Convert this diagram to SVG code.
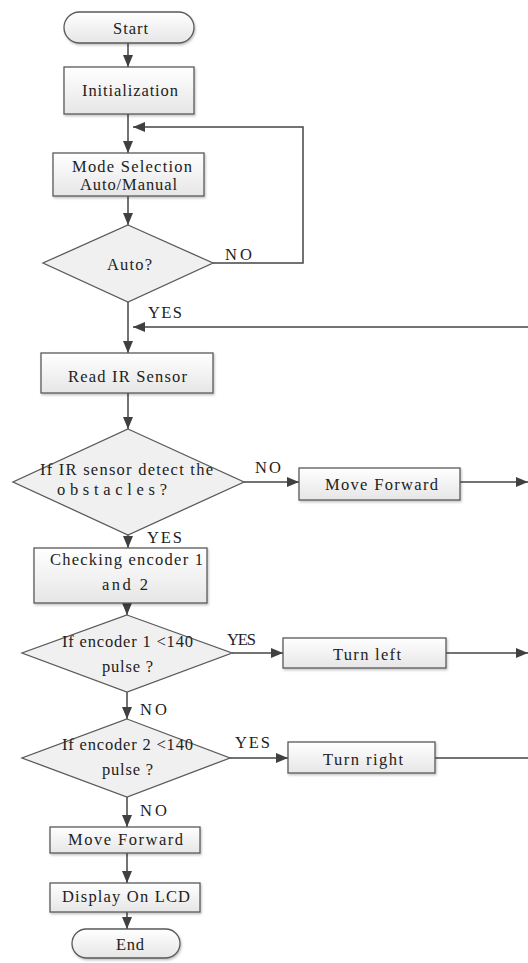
<svg xmlns="http://www.w3.org/2000/svg" width="528" height="963" viewBox="0 0 528 963">
<defs>
<linearGradient id="g" x1="0" y1="0" x2="0" y2="1">
<stop offset="0" stop-color="#ffffff"/>
<stop offset="1" stop-color="#e6e6e6"/>
</linearGradient>
<filter id="sh" x="-10%" y="-10%" width="130%" height="140%">
<feDropShadow dx="1" dy="1.5" stdDeviation="1" flood-color="#000" flood-opacity="0.25"/>
</filter>
<marker id="ah" markerUnits="userSpaceOnUse" markerWidth="12" markerHeight="10" refX="12" refY="5" orient="auto">
<path d="M0,0 L12,5 L0,10 z" fill="#404040"/>
</marker>
</defs>
<style>
.box{fill:url(#g);stroke:#5a5a5a;stroke-width:1.3;filter:url(#sh)}
.dia{fill:#f0f0f0;stroke:#5a5a5a;stroke-width:1.3}
.ln{fill:none;stroke:#444;stroke-width:1.5}
.arr{marker-end:url(#ah)}
.t{fill:#222;font-family:"Liberation Serif","Times New Roman",Times,"DejaVu Serif","Noto Serif",serif;font-size:16.5px}
</style>
<rect width="528" height="963" fill="#ffffff"/>
<g id="connectors">
<line class="ln arr" x1="128" y1="43" x2="128" y2="67"/>
<line class="ln arr" x1="128" y1="114" x2="128" y2="153"/>
<line class="ln arr" x1="128" y1="196" x2="128" y2="225"/>
<polyline class="ln arr" points="213,263 303,263 303,127 133,127"/>
<line class="ln arr" x1="128" y1="302" x2="128" y2="353"/>
<line class="ln arr" x1="528" y1="327" x2="133" y2="327"/>
<line class="ln arr" x1="128" y1="393" x2="128" y2="429"/>
<line class="ln arr" x1="244" y1="482" x2="299" y2="482"/>
<line class="ln arr" x1="460" y1="482" x2="528" y2="482"/>
<line class="ln arr" x1="128" y1="535" x2="128" y2="548"/>
<line class="ln arr" x1="127" y1="603" x2="127" y2="615"/>
<line class="ln arr" x1="232" y1="653" x2="283" y2="653"/>
<line class="ln arr" x1="446" y1="653" x2="528" y2="653"/>
<line class="ln arr" x1="127" y1="692" x2="127" y2="719"/>
<line class="ln arr" x1="230" y1="758" x2="288" y2="758"/>
<line class="ln" x1="435" y1="758" x2="528" y2="758"/>
<line class="ln arr" x1="127" y1="797" x2="127" y2="827"/>
<line class="ln arr" x1="127" y1="853" x2="127" y2="883"/>
<line class="ln arr" x1="127" y1="912" x2="127" y2="929"/>
<text class="t" x="225" y="260" textLength="27" lengthAdjust="spacing">NO</text>
<text class="t" x="148" y="318" textLength="34" lengthAdjust="spacing">YES</text>
<text class="t" x="255" y="473" textLength="26" lengthAdjust="spacing">NO</text>
<text class="t" x="147" y="543" textLength="35" lengthAdjust="spacing">YES</text>
<text class="t" x="227" y="645" textLength="29" lengthAdjust="spacing">YES</text>
<text class="t" x="140" y="715" textLength="27" lengthAdjust="spacing">NO</text>
<text class="t" x="235" y="748" textLength="35" lengthAdjust="spacing">YES</text>
<text class="t" x="140" y="816" textLength="27" lengthAdjust="spacing">NO</text>
</g>
<g id="start">
<rect class="box" x="64" y="12" width="130" height="31" rx="15.5"/>
<text class="t" x="113" y="34" textLength="35" lengthAdjust="spacing">Start</text>
</g>
<g id="init">
<rect class="box" x="64" y="67" width="130" height="47"/>
<text class="t" x="82" y="96" textLength="96" lengthAdjust="spacing">Initialization</text>
</g>
<g id="mode">
<rect class="box" x="53" y="153" width="151" height="43"/>
<text class="t" x="72" y="172" textLength="120" lengthAdjust="spacing">Mode Selection</text>
<text class="t" x="80" y="190" textLength="97" lengthAdjust="spacing">Auto/Manual</text>
</g>
<g id="auto">
<polygon class="dia" points="128,225 213,263 128,302 43,263"/>
<text class="t" x="107" y="270" textLength="45" lengthAdjust="spacing">Auto?</text>
</g>
<g id="readir">
<rect class="box" x="41" y="353" width="172" height="40"/>
<text class="t" x="68" y="382" textLength="119" lengthAdjust="spacing">Read IR Sensor</text>
</g>
<g id="irdetect">
<polygon class="dia" points="128,429 244,482 128,535 13,482"/>
<text class="t" x="40" y="475" textLength="173" lengthAdjust="spacing">If IR sensor detect the</text>
<text class="t" x="57" y="495" textLength="110" lengthAdjust="spacing">obstacles?</text>
</g>
<g id="moveforward1">
<rect class="box" x="299" y="468" width="161" height="32"/>
<text class="t" x="325" y="490" textLength="113" lengthAdjust="spacing">Move Forward</text>
</g>
<g id="checking">
<rect class="box" x="34" y="548" width="173" height="55"/>
<text class="t" x="50" y="565" textLength="153" lengthAdjust="spacing">Checking encoder 1</text>
<text class="t" x="102" y="590" textLength="46" lengthAdjust="spacing">and 2</text>
</g>
<g id="enc1">
<polygon class="dia" points="127,615 232,653 127,692 22,653"/>
<text class="t" x="62" y="647" textLength="131" lengthAdjust="spacing">If encoder 1 &lt;140</text>
<text class="t" x="102" y="672" textLength="51" lengthAdjust="spacing">pulse ?</text>
</g>
<g id="turnleft">
<rect class="box" x="283" y="638" width="163" height="30"/>
<text class="t" x="333" y="660" textLength="68" lengthAdjust="spacing">Turn left</text>
</g>
<g id="enc2">
<polygon class="dia" points="127,719 230,758 127,797 22,758"/>
<text class="t" x="62" y="750" textLength="131" lengthAdjust="spacing">If encoder 2 &lt;140</text>
<text class="t" x="102" y="775" textLength="51" lengthAdjust="spacing">pulse ?</text>
</g>
<g id="turnright">
<rect class="box" x="288" y="742" width="147" height="31"/>
<text class="t" x="323" y="765" textLength="80" lengthAdjust="spacing">Turn right</text>
</g>
<g id="moveforward2">
<rect class="box" x="50" y="827" width="150" height="26"/>
<text class="t" x="68" y="845" textLength="115" lengthAdjust="spacing">Move Forward</text>
</g>
<g id="display">
<rect class="box" x="50" y="883" width="150" height="29"/>
<text class="t" x="62" y="902" textLength="128" lengthAdjust="spacing">Display On LCD</text>
</g>
<g id="end">
<rect class="box" x="72" y="929" width="108" height="29" rx="14.5"/>
<text class="t" x="116" y="950" textLength="28" lengthAdjust="spacing">End</text>
</g>
</svg>
